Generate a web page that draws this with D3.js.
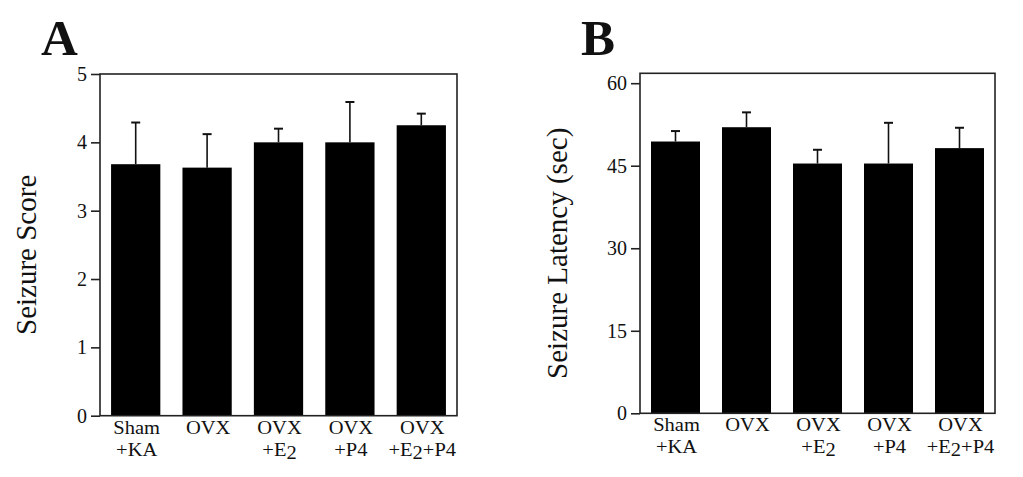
<!DOCTYPE html>
<html>
<head>
<meta charset="utf-8">
<script src="https://cdn.jsdelivr.net/npm/d3@7"></script>
<style>
  html, body { margin: 0; padding: 0; background: #fff; }
  svg { display: block; }
  text { font-family: "Liberation Serif", "Times New Roman", serif; fill: #111; }
</style>
</head>
<body>
<svg id="chart" width="1023" height="477"></svg>
<script>
// ---------- data ----------
const categories = ["Sham+KA", "OVX", "OVX+E2", "OVX+P4", "OVX+E2+P4"];
// category label lines ("_" marks a subscript character)
const categoryLines = [["Sham", "+KA"], ["OVX", ""], ["OVX", "+E_2"], ["OVX", "+P4"], ["OVX", "+E_2+P4"]];

const scoreMeans = [3.68, 3.63, 4.0, 4.0, 4.25];
const scoreErrors = [0.61, 0.49, 0.20, 0.59, 0.17];
const scoreTicks = [0, 1, 2, 3, 4, 5];
const scoreMax = 5;

const latencyMeans = [49.4, 52.0, 45.4, 45.4, 48.2];
const latencyErrors = [1.9, 2.7, 2.5, 7.4, 3.7];
const latencyTicks = [0, 15, 30, 45, 60];
const latencyMax = 61.8;

const svg = d3.select("#chart");

function panel(opts) {
  const g = svg.append("g");
  const x = d3.scaleBand()
    .domain(categories)
    .range([opts.left, opts.right])
    .paddingInner(0.31)
    .paddingOuter(0.155);
  const y = d3.scaleLinear()
    .domain([0, opts.max])
    .range([opts.bottom, opts.top]);

  // bars
  g.selectAll("rect.bar")
    .data(opts.means)
    .join("rect")
    .attr("class", "bar")
    .attr("x", (d, i) => x(categories[i]))
    .attr("width", x.bandwidth())
    .attr("y", d => y(d))
    .attr("height", d => y(0) - y(d))
    .attr("fill", "#000");

  // error bars (upper only)
  const eb = g.selectAll("g.err")
    .data(opts.means.map((m, i) => ({ m, e: opts.errors[i], c: categories[i] })))
    .join("g")
    .attr("class", "err");
  eb.append("line")
    .attr("x1", d => x(d.c) + x.bandwidth() / 2)
    .attr("x2", d => x(d.c) + x.bandwidth() / 2)
    .attr("y1", d => y(d.m))
    .attr("y2", d => y(d.m + d.e))
    .attr("stroke", "#111")
    .attr("stroke-width", 1.6);
  eb.append("line")
    .attr("x1", d => x(d.c) + x.bandwidth() / 2 - 4.5)
    .attr("x2", d => x(d.c) + x.bandwidth() / 2 + 4.5)
    .attr("y1", d => y(d.m + d.e))
    .attr("y2", d => y(d.m + d.e))
    .attr("stroke", "#111")
    .attr("stroke-width", 2);

  // frame
  g.append("rect")
    .attr("x", opts.left)
    .attr("y", opts.top)
    .attr("width", opts.right - opts.left)
    .attr("height", opts.bottom - opts.top)
    .attr("fill", "none")
    .attr("stroke", "#222")
    .attr("stroke-width", 1.6);

  // y axis
  const ax = g.append("g")
    .attr("transform", `translate(${opts.left},0)`)
    .call(d3.axisLeft(y).tickValues(opts.ticks).tickSize(9).tickPadding(4).tickFormat(d3.format("d")));
  ax.select(".domain").remove();
  ax.selectAll(".tick line").attr("stroke", "#222").attr("stroke-width", 1.6);
  ax.selectAll(".tick text")
    .attr("font-family", "Liberation Serif, Times New Roman, serif")
    .attr("font-size", 20)
    .attr("fill", "#111");

  // category labels
  const lab = g.selectAll("text.cat")
    .data(categoryLines)
    .join("text")
    .attr("class", "cat")
    .attr("text-anchor", "middle")
    .attr("font-size", 19)
    .attr("transform", (d, i) => `translate(${x(categories[i]) + x.bandwidth() / 2 + 1},${opts.bottom + 18}) scale(1.08,1)`);
  lab.each(function (lines) {
    const t = d3.select(this);
    t.append("tspan").attr("x", 0).attr("y", 0).text(lines[0]);
    if (lines[1]) {
      const parts = lines[1].split("_");
      t.append("tspan").attr("x", 0).attr("y", 22).text(parts[0]);
      for (let k = 1; k < parts.length; k++) {
        const p = parts[k];
        t.append("tspan").attr("dy", 3).text(p[0]);
        t.append("tspan").attr("dy", -3).text(p.slice(1));
      }
    }
  });

  // y title
  g.append("text")
    .attr("transform", `translate(${opts.titleX},${(opts.top + opts.bottom) / 2 + 10}) rotate(-90)`)
    .attr("text-anchor", "middle")
    .attr("font-size", 29)
    .text(opts.title);

  // panel letter
  g.append("text")
    .attr("x", opts.letterX)
    .attr("y", 55)
    .attr("font-size", 51)
    .attr("font-weight", "bold")
    .attr("fill", "#000")
    .text(opts.letter);
}

panel({
  left: 100, right: 457, top: 74, bottom: 415.7,
  max: scoreMax, means: scoreMeans, errors: scoreErrors, ticks: scoreTicks,
  title: "Seizure Score", titleX: 36, letter: "A", letterX: 41
});

panel({
  left: 640, right: 995, top: 73.3, bottom: 413.3,
  max: latencyMax, means: latencyMeans, errors: latencyErrors, ticks: latencyTicks,
  title: "Seizure Latency (sec)", titleX: 567, letter: "B", letterX: 581
});
</script>
</body>
</html>
